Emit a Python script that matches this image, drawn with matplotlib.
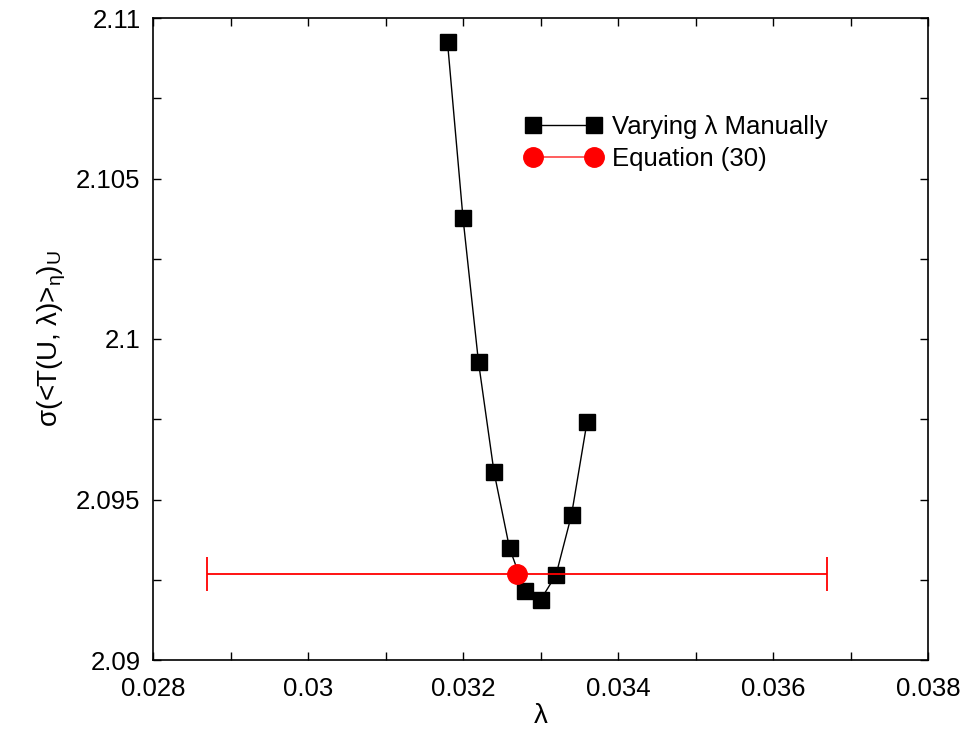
import numpy as np
import matplotlib
matplotlib.use("Agg")
import matplotlib.pyplot as plt
from matplotlib.lines import Line2D
from matplotlib.ticker import MultipleLocator, FormatStrFormatter

plt.rcParams['font.family'] = ['Liberation Sans', 'DejaVu Sans']
plt.rcParams['mathtext.fontset'] = 'custom'
plt.rcParams['mathtext.rm'] = 'Liberation Sans'
plt.rcParams['mathtext.it'] = 'Liberation Sans'

# sweep of lambda done by hand
lam = [0.0318, 0.0320, 0.0322, 0.0324, 0.0326, 0.0328, 0.0330, 0.0332, 0.0334, 0.0336]
sigma = [2.10925, 2.10377, 2.09928, 2.09586, 2.09349, 2.09215, 2.09187, 2.09265, 2.09452, 2.09741]

# value from eq. (30) with its uncertainty
lam_eq = [0.0327]
sigma_eq = [2.09268]
lam_eq_err = [0.0040]

fig = plt.figure(figsize=(9.68, 7.38), dpi=100)
ax = fig.add_axes([153/968, 1 - 660/738, 775/968, 642/738])

ax.plot(lam, sigma, color='black', lw=1, marker='s', ms=11,
        mfc='black', mec='black')
eb = ax.errorbar(lam_eq, sigma_eq, xerr=lam_eq_err, color='red', lw=1.3,
                 marker='o', ms=14, capsize=12.5, capthick=1.3)
for cap in eb[1]:
    cap.set_color('#ff5050')

ax.set_xlim(0.028, 0.038)
ax.set_ylim(2.09, 2.11)
ax.xaxis.set_major_locator(MultipleLocator(0.002))
ax.xaxis.set_minor_locator(MultipleLocator(0.001))
ax.yaxis.set_major_locator(MultipleLocator(0.005))
ax.yaxis.set_minor_locator(MultipleLocator(0.0025))
ax.xaxis.set_major_formatter(FormatStrFormatter('%g'))
ax.yaxis.set_major_formatter(FormatStrFormatter('%g'))
ax.tick_params(which='both', direction='in', top=True, right=True,
               length=6, width=1, labelsize=18.5)
ax.tick_params(axis='x', pad=12)
ax.tick_params(axis='y', pad=9)
for s in ax.spines.values():
    s.set_linewidth(1.2)

ax.set_xlabel('λ', fontsize=20, labelpad=2)
ax.set_ylabel(r'σ(<T(U, λ)>$_{\eta}$)$_{\mathrm{U}}$', fontsize=20, labelpad=6)

handles = [
    Line2D([], [], color='black', lw=1, marker='s', ms=11),
    Line2D([], [], color='#ff5050', lw=1.3, marker='o', ms=14,
           mfc='red', mec='red'),
]
labels = ['Varying λ Manually', 'Equation (30)']
ax.legend(handles, labels, loc='upper left', bbox_to_anchor=(0.45, 0.885),
          frameon=False, fontsize=18.5, numpoints=2, handlelength=3.0,
          handletextpad=0.4, labelspacing=0.32)

fig.savefig('out.png', dpi=100)
